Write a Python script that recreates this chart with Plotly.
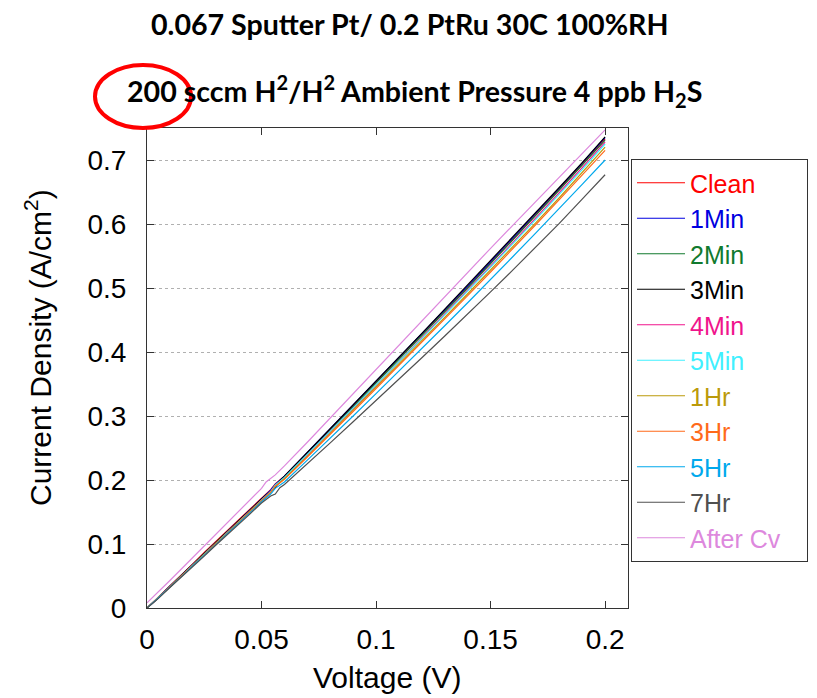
import plotly.graph_objects as go

voltage = [0, 0.005, 0.01, 0.015, 0.02, 0.025, 0.03, 0.035, 0.04, 0.045, 0.05, 0.052, 0.054,
           0.056, 0.058, 0.06, 0.07, 0.08, 0.09, 0.1, 0.11, 0.12, 0.13, 0.14, 0.15, 0.16,
           0.17, 0.18, 0.19, 0.2]

clean = [0, 0.017, 0.035, 0.052, 0.069, 0.087, 0.104, 0.121, 0.138, 0.155, 0.172, 0.178, 0.185,
         0.194, 0.2, 0.206, 0.242, 0.279, 0.316, 0.353, 0.39, 0.427, 0.464, 0.501, 0.539, 0.577,
         0.615, 0.654, 0.693, 0.733]
min1 = [0, 0.016, 0.034, 0.051, 0.069, 0.086, 0.103, 0.12, 0.137, 0.154, 0.171, 0.177, 0.184,
        0.193, 0.2, 0.206, 0.243, 0.28, 0.317, 0.354, 0.391, 0.428, 0.466, 0.503, 0.541, 0.579,
        0.617, 0.656, 0.695, 0.735]
min2 = [0, 0.016, 0.033, 0.05, 0.068, 0.085, 0.102, 0.119, 0.136, 0.153, 0.17, 0.176, 0.182,
        0.192, 0.198, 0.204, 0.24, 0.277, 0.314, 0.351, 0.388, 0.425, 0.462, 0.5, 0.538, 0.576,
        0.614, 0.653, 0.692, 0.731]
min3 = [0, 0.016, 0.034, 0.051, 0.068, 0.085, 0.102, 0.12, 0.137, 0.154, 0.171, 0.177, 0.182,
        0.188, 0.199, 0.206, 0.243, 0.28, 0.317, 0.354, 0.392, 0.429, 0.467, 0.505, 0.543, 0.58,
        0.618, 0.657, 0.696, 0.736]
min4 = [0, 0.016, 0.033, 0.05, 0.067, 0.084, 0.101, 0.118, 0.135, 0.152, 0.169, 0.175, 0.182,
        0.191, 0.197, 0.203, 0.239, 0.275, 0.312, 0.348, 0.385, 0.422, 0.459, 0.496, 0.534, 0.572,
        0.61, 0.649, 0.688, 0.728]
min5 = [0, 0.016, 0.033, 0.05, 0.067, 0.084, 0.101, 0.118, 0.135, 0.152, 0.169, 0.175, 0.182,
        0.192, 0.198, 0.204, 0.24, 0.276, 0.312, 0.349, 0.385, 0.421, 0.458, 0.495, 0.532, 0.57,
        0.608, 0.646, 0.685, 0.725]
hr1 = [0, 0.016, 0.033, 0.05, 0.067, 0.084, 0.1, 0.117, 0.134, 0.151, 0.168, 0.174, 0.18,
       0.19, 0.196, 0.202, 0.237, 0.273, 0.309, 0.345, 0.381, 0.417, 0.454, 0.491, 0.528, 0.565,
       0.603, 0.641, 0.68, 0.72]
hr3 = [0, 0.016, 0.033, 0.05, 0.066, 0.083, 0.1, 0.117, 0.134, 0.151, 0.168, 0.174, 0.181,
       0.19, 0.195, 0.201, 0.236, 0.271, 0.307, 0.343, 0.379, 0.415, 0.451, 0.488, 0.525, 0.562,
       0.6, 0.638, 0.676, 0.715]
hr5 = [0, 0.016, 0.032, 0.049, 0.066, 0.082, 0.099, 0.116, 0.132, 0.149, 0.166, 0.172, 0.178,
       0.187, 0.192, 0.197, 0.231, 0.265, 0.3, 0.335, 0.37, 0.405, 0.441, 0.477, 0.513, 0.55,
       0.587, 0.624, 0.662, 0.7]
hr7 = [0, 0.015, 0.032, 0.048, 0.065, 0.081, 0.098, 0.114, 0.131, 0.147, 0.164, 0.169, 0.175,
       0.178, 0.188, 0.193, 0.225, 0.258, 0.291, 0.324, 0.357, 0.391, 0.425, 0.459, 0.494, 0.529,
       0.565, 0.601, 0.639, 0.677]
after_cv = [0.008, 0.025, 0.043, 0.061, 0.079, 0.097, 0.115, 0.133, 0.151, 0.169, 0.187, 0.197,
            0.202, 0.208, 0.215, 0.222, 0.259, 0.297, 0.335, 0.373, 0.411, 0.449, 0.487, 0.525,
            0.562, 0.599, 0.636, 0.673, 0.71, 0.747]

series_names = ["Clean", "1Min", "2Min", "3Min", "4Min", "5Min", "1Hr", "3Hr", "5Hr", "7Hr", "After Cv"]
series_values = [clean, min1, min2, min3, min4, min5, hr1, hr3, hr5, hr7, after_cv]
series_colors = ["#FF0000", "#0000E0", "#117A2E", "#000000", "#F0148C", "#40F0FF",
                 "#BB9A0A", "#FF6A1A", "#00A8EC", "#505050", "#DD88DD"]

x_ticks = [0, 0.05, 0.1, 0.15, 0.2]
x_tick_labels = ["0", "0.05", "0.1", "0.15", "0.2"]
y_ticks = [0, 0.1, 0.2, 0.3, 0.4, 0.5, 0.6, 0.7]
y_tick_labels = ["0", "0.1", "0.2", "0.3", "0.4", "0.5", "0.6", "0.7"]

fig = go.Figure()
for name, vals, col in zip(series_names, series_values, series_colors):
    label = f'<span style="color:{col}">{name}</span>'
    if name == "After Cv":
        label += "&nbsp;&nbsp;&nbsp;"
    fig.add_trace(go.Scatter(
        x=voltage, y=vals, mode="lines",
        name=label,
        line=dict(color=col, width=1.2),
    ))

W, H = 817, 698
L, R, T, B = 147, 189, 128, 90
pw, ph = W - L - R, H - T - B


def px(xp):
    return (xp - L) / pw


def py(yp):
    return (H - B - yp) / ph


axis_font = dict(family="Liberation Sans, Arial", size=28, color="#000")

fig.update_layout(
    width=W, height=H,
    margin=dict(l=L, r=R, t=T, b=B, autoexpand=False),
    paper_bgcolor="white", plot_bgcolor="white",
    showlegend=True,
    legend=dict(
        x=px(631), y=py(159), xanchor="left", yanchor="top",
        bordercolor="#333", borderwidth=1, bgcolor="white",
        font=dict(family="Liberation Sans, Arial", size=25, color="#000"),
        itemwidth=48,
    ),
    xaxis=dict(
        range=[0, 0.21], tickvals=x_ticks, ticktext=x_tick_labels,
        showline=True, linecolor="#333", linewidth=1, mirror="allticks",
        ticks="inside", ticklen=7, tickcolor="#333",
        showgrid=False, zeroline=False, tickfont=axis_font,
        ticklabelstandoff=6, automargin=False,
    ),
    yaxis=dict(
        range=[0, 0.75], tickvals=y_ticks, ticktext=y_tick_labels,
        showline=True, linecolor="#333", linewidth=1, mirror="allticks",
        ticks="inside", ticklen=7, tickcolor="#333",
        showgrid=True, gridcolor="#b0b0b0", griddash="dot", gridwidth=1,
        zeroline=False, tickfont=axis_font,
        ticklabelstandoff=14, automargin=False,
    ),
)

title_font = dict(family="Lato", size=28.6, color="#000")
fig.add_annotation(text="<b>0.067 Sputter Pt/ 0.2 PtRu 30C 100%RH</b>",
                   xref="paper", yref="paper", x=px(410), y=py(24),
                   xanchor="center", yanchor="middle", showarrow=False, font=title_font)
fig.add_annotation(text="<b>200 sccm H<sup>2</sup>/H<sup>2</sup> Ambient Pressure 4 ppb H<sub>2</sub>S</b>",
                   xref="paper", yref="paper", x=px(414), y=py(91),
                   xanchor="center", yanchor="middle", showarrow=False, font=title_font)

fig.add_annotation(text="Voltage (V)", xref="paper", yref="paper", x=px(387), y=py(677),
                   xanchor="center", yanchor="middle", showarrow=False,
                   font=dict(family="Liberation Sans, Arial", size=30, color="#000"))
fig.add_annotation(text="Current Density (A/cm<sup>2</sup>)", xref="paper", yref="paper",
                   x=px(38), y=py(348), xanchor="center", yanchor="middle", textangle=-90,
                   showarrow=False, font=dict(family="Liberation Sans, Arial", size=30, color="#000"))

fig.add_shape(type="circle", xref="paper", yref="paper",
              x0=px(95), x1=px(191), y0=py(128), y1=py(65),
              line=dict(color="#FF0000", width=4))

fig.write_html("out.html")
